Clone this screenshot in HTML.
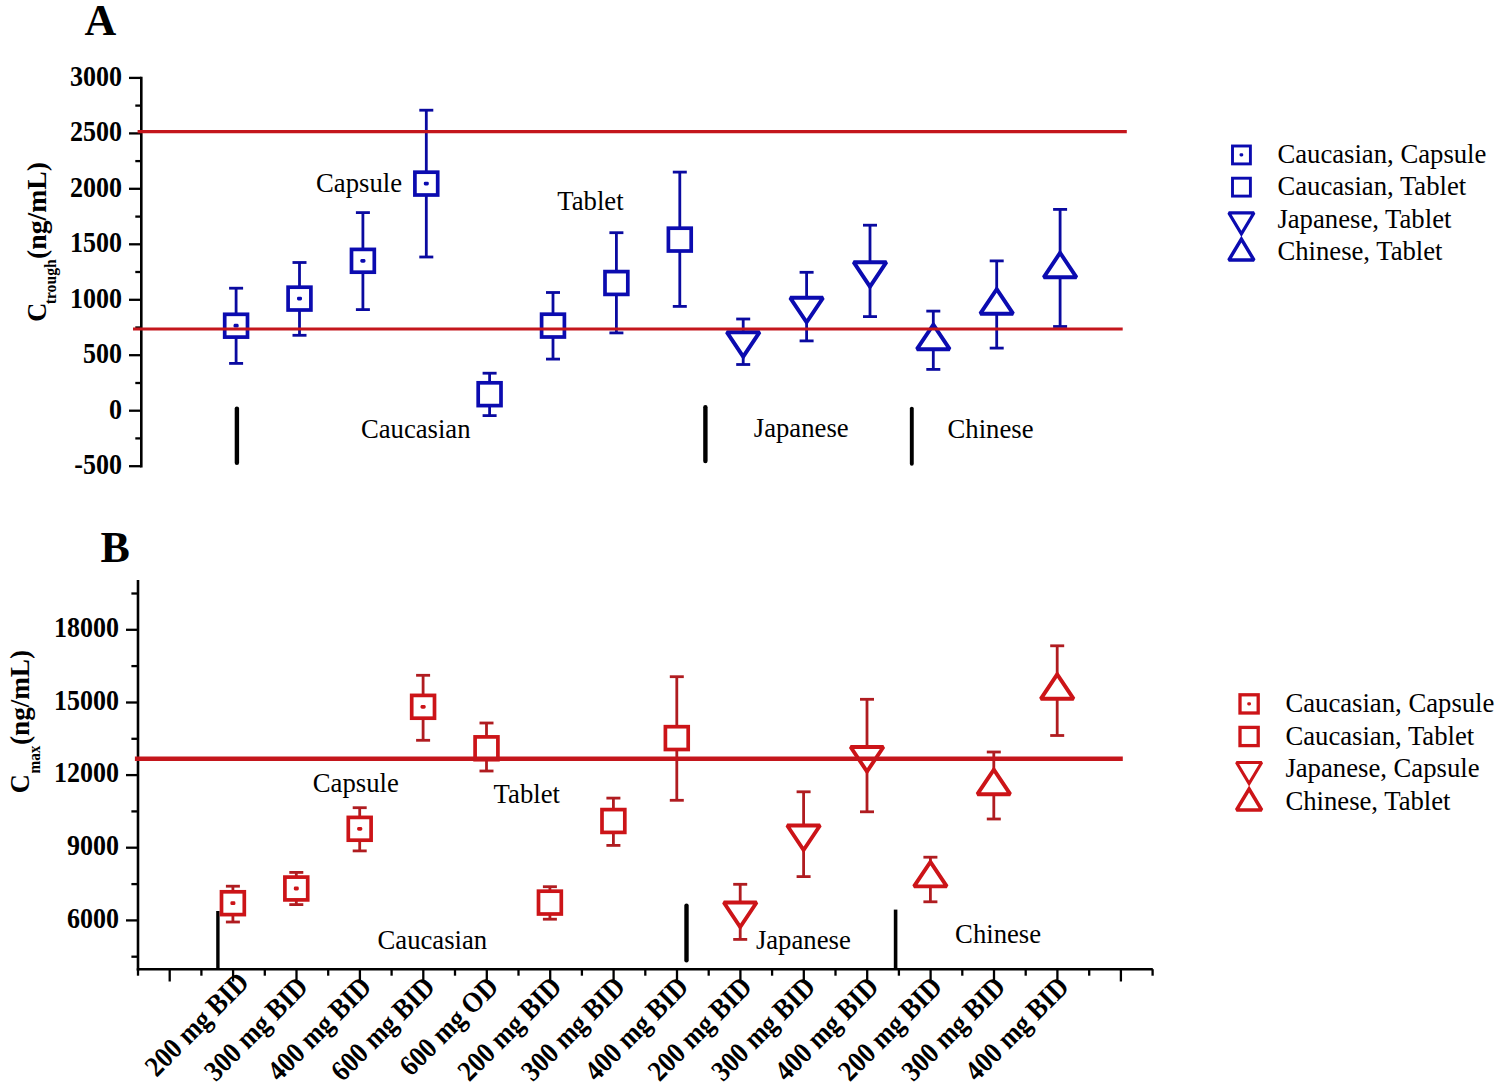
<!DOCTYPE html>
<html><head><meta charset="utf-8"><title>Ctrough and Cmax chart</title>
<style>
html,body{margin:0;padding:0;background:#fff;overflow:hidden;}
svg{display:block;}
text{font-family:"Liberation Serif", serif; fill:#000;}
</style></head>
<body>
<svg width="1499" height="1090" viewBox="0 0 1499 1090">
<rect width="1499" height="1090" fill="#fff"/>
<line x1="141.3" y1="76.7" x2="141.3" y2="467.4" stroke="#000" stroke-width="2.6" stroke-linecap="butt"/>
<line x1="129.0" y1="466.2" x2="141.3" y2="466.2" stroke="#000" stroke-width="2.3" stroke-linecap="butt"/>
<line x1="135.3" y1="438.4" x2="141.3" y2="438.4" stroke="#000" stroke-width="2.3" stroke-linecap="butt"/>
<line x1="129.0" y1="410.7" x2="141.3" y2="410.7" stroke="#000" stroke-width="2.3" stroke-linecap="butt"/>
<line x1="135.3" y1="383.0" x2="141.3" y2="383.0" stroke="#000" stroke-width="2.3" stroke-linecap="butt"/>
<line x1="129.0" y1="355.2" x2="141.3" y2="355.2" stroke="#000" stroke-width="2.3" stroke-linecap="butt"/>
<line x1="135.3" y1="327.5" x2="141.3" y2="327.5" stroke="#000" stroke-width="2.3" stroke-linecap="butt"/>
<line x1="129.0" y1="299.8" x2="141.3" y2="299.8" stroke="#000" stroke-width="2.3" stroke-linecap="butt"/>
<line x1="135.3" y1="272.0" x2="141.3" y2="272.0" stroke="#000" stroke-width="2.3" stroke-linecap="butt"/>
<line x1="129.0" y1="244.3" x2="141.3" y2="244.3" stroke="#000" stroke-width="2.3" stroke-linecap="butt"/>
<line x1="135.3" y1="216.6" x2="141.3" y2="216.6" stroke="#000" stroke-width="2.3" stroke-linecap="butt"/>
<line x1="129.0" y1="188.8" x2="141.3" y2="188.8" stroke="#000" stroke-width="2.3" stroke-linecap="butt"/>
<line x1="135.3" y1="161.1" x2="141.3" y2="161.1" stroke="#000" stroke-width="2.3" stroke-linecap="butt"/>
<line x1="129.0" y1="133.4" x2="141.3" y2="133.4" stroke="#000" stroke-width="2.3" stroke-linecap="butt"/>
<line x1="135.3" y1="105.6" x2="141.3" y2="105.6" stroke="#000" stroke-width="2.3" stroke-linecap="butt"/>
<line x1="129.0" y1="77.9" x2="141.3" y2="77.9" stroke="#000" stroke-width="2.3" stroke-linecap="butt"/>
<text transform="translate(122,474.2) scale(1,1.11)" font-size="26" font-weight="bold" text-anchor="end">-500</text>
<text transform="translate(122,418.7) scale(1,1.11)" font-size="26" font-weight="bold" text-anchor="end">0</text>
<text transform="translate(122,363.2) scale(1,1.11)" font-size="26" font-weight="bold" text-anchor="end">500</text>
<text transform="translate(122,307.8) scale(1,1.11)" font-size="26" font-weight="bold" text-anchor="end">1000</text>
<text transform="translate(122,252.3) scale(1,1.11)" font-size="26" font-weight="bold" text-anchor="end">1500</text>
<text transform="translate(122,196.8) scale(1,1.11)" font-size="26" font-weight="bold" text-anchor="end">2000</text>
<text transform="translate(122,141.4) scale(1,1.11)" font-size="26" font-weight="bold" text-anchor="end">2500</text>
<text transform="translate(122,85.9) scale(1,1.11)" font-size="26" font-weight="bold" text-anchor="end">3000</text>
<line x1="236.9" y1="408.6" x2="236.9" y2="462.7" stroke="#000" stroke-width="4.4" stroke-linecap="round"/>
<line x1="705.4" y1="407.3" x2="705.4" y2="461.1" stroke="#000" stroke-width="4.4" stroke-linecap="round"/>
<line x1="911.8" y1="408.6" x2="911.8" y2="463.7" stroke="#000" stroke-width="3.9" stroke-linecap="round"/>
<line x1="236.1" y1="288.2" x2="236.1" y2="363.4" stroke="#0a0aa0" stroke-width="2.8" stroke-linecap="butt"/>
<line x1="229.1" y1="288.2" x2="243.1" y2="288.2" stroke="#0a0aa0" stroke-width="2.8" stroke-linecap="butt"/>
<line x1="229.1" y1="363.4" x2="243.1" y2="363.4" stroke="#0a0aa0" stroke-width="2.8" stroke-linecap="butt"/>
<line x1="299.5" y1="262.5" x2="299.5" y2="335.3" stroke="#0a0aa0" stroke-width="2.8" stroke-linecap="butt"/>
<line x1="292.5" y1="262.5" x2="306.5" y2="262.5" stroke="#0a0aa0" stroke-width="2.8" stroke-linecap="butt"/>
<line x1="292.5" y1="335.3" x2="306.5" y2="335.3" stroke="#0a0aa0" stroke-width="2.8" stroke-linecap="butt"/>
<line x1="362.9" y1="212.6" x2="362.9" y2="309.6" stroke="#0a0aa0" stroke-width="2.8" stroke-linecap="butt"/>
<line x1="355.9" y1="212.6" x2="369.9" y2="212.6" stroke="#0a0aa0" stroke-width="2.8" stroke-linecap="butt"/>
<line x1="355.9" y1="309.6" x2="369.9" y2="309.6" stroke="#0a0aa0" stroke-width="2.8" stroke-linecap="butt"/>
<line x1="426.3" y1="110.2" x2="426.3" y2="257.0" stroke="#0a0aa0" stroke-width="2.8" stroke-linecap="butt"/>
<line x1="419.3" y1="110.2" x2="433.3" y2="110.2" stroke="#0a0aa0" stroke-width="2.8" stroke-linecap="butt"/>
<line x1="419.3" y1="257.0" x2="433.3" y2="257.0" stroke="#0a0aa0" stroke-width="2.8" stroke-linecap="butt"/>
<line x1="489.6" y1="373.2" x2="489.6" y2="415.6" stroke="#0a0aa0" stroke-width="2.8" stroke-linecap="butt"/>
<line x1="482.6" y1="373.2" x2="496.6" y2="373.2" stroke="#0a0aa0" stroke-width="2.8" stroke-linecap="butt"/>
<line x1="482.6" y1="415.6" x2="496.6" y2="415.6" stroke="#0a0aa0" stroke-width="2.8" stroke-linecap="butt"/>
<line x1="553.0" y1="292.5" x2="553.0" y2="359.1" stroke="#0a0aa0" stroke-width="2.8" stroke-linecap="butt"/>
<line x1="546.0" y1="292.5" x2="560.0" y2="292.5" stroke="#0a0aa0" stroke-width="2.8" stroke-linecap="butt"/>
<line x1="546.0" y1="359.1" x2="560.0" y2="359.1" stroke="#0a0aa0" stroke-width="2.8" stroke-linecap="butt"/>
<line x1="616.4" y1="232.7" x2="616.4" y2="332.9" stroke="#0a0aa0" stroke-width="2.8" stroke-linecap="butt"/>
<line x1="609.4" y1="232.7" x2="623.4" y2="232.7" stroke="#0a0aa0" stroke-width="2.8" stroke-linecap="butt"/>
<line x1="609.4" y1="332.9" x2="623.4" y2="332.9" stroke="#0a0aa0" stroke-width="2.8" stroke-linecap="butt"/>
<line x1="679.8" y1="172.1" x2="679.8" y2="306.4" stroke="#0a0aa0" stroke-width="2.8" stroke-linecap="butt"/>
<line x1="672.8" y1="172.1" x2="686.8" y2="172.1" stroke="#0a0aa0" stroke-width="2.8" stroke-linecap="butt"/>
<line x1="672.8" y1="306.4" x2="686.8" y2="306.4" stroke="#0a0aa0" stroke-width="2.8" stroke-linecap="butt"/>
<line x1="743.2" y1="319.0" x2="743.2" y2="364.5" stroke="#0a0aa0" stroke-width="2.8" stroke-linecap="butt"/>
<line x1="736.2" y1="319.0" x2="750.2" y2="319.0" stroke="#0a0aa0" stroke-width="2.8" stroke-linecap="butt"/>
<line x1="736.2" y1="364.5" x2="750.2" y2="364.5" stroke="#0a0aa0" stroke-width="2.8" stroke-linecap="butt"/>
<line x1="806.6" y1="272.3" x2="806.6" y2="340.9" stroke="#0a0aa0" stroke-width="2.8" stroke-linecap="butt"/>
<line x1="799.6" y1="272.3" x2="813.6" y2="272.3" stroke="#0a0aa0" stroke-width="2.8" stroke-linecap="butt"/>
<line x1="799.6" y1="340.9" x2="813.6" y2="340.9" stroke="#0a0aa0" stroke-width="2.8" stroke-linecap="butt"/>
<line x1="870.0" y1="225.2" x2="870.0" y2="316.6" stroke="#0a0aa0" stroke-width="2.8" stroke-linecap="butt"/>
<line x1="863.0" y1="225.2" x2="877.0" y2="225.2" stroke="#0a0aa0" stroke-width="2.8" stroke-linecap="butt"/>
<line x1="863.0" y1="316.6" x2="877.0" y2="316.6" stroke="#0a0aa0" stroke-width="2.8" stroke-linecap="butt"/>
<line x1="933.3" y1="311.1" x2="933.3" y2="369.4" stroke="#0a0aa0" stroke-width="2.8" stroke-linecap="butt"/>
<line x1="926.3" y1="311.1" x2="940.3" y2="311.1" stroke="#0a0aa0" stroke-width="2.8" stroke-linecap="butt"/>
<line x1="926.3" y1="369.4" x2="940.3" y2="369.4" stroke="#0a0aa0" stroke-width="2.8" stroke-linecap="butt"/>
<line x1="996.7" y1="260.9" x2="996.7" y2="348.1" stroke="#0a0aa0" stroke-width="2.8" stroke-linecap="butt"/>
<line x1="989.7" y1="260.9" x2="1003.7" y2="260.9" stroke="#0a0aa0" stroke-width="2.8" stroke-linecap="butt"/>
<line x1="989.7" y1="348.1" x2="1003.7" y2="348.1" stroke="#0a0aa0" stroke-width="2.8" stroke-linecap="butt"/>
<line x1="1060.1" y1="209.4" x2="1060.1" y2="326.5" stroke="#0a0aa0" stroke-width="2.8" stroke-linecap="butt"/>
<line x1="1053.1" y1="209.4" x2="1067.1" y2="209.4" stroke="#0a0aa0" stroke-width="2.8" stroke-linecap="butt"/>
<line x1="1053.1" y1="326.5" x2="1067.1" y2="326.5" stroke="#0a0aa0" stroke-width="2.8" stroke-linecap="butt"/>
<rect x="224.7" y="314.3" width="22.8" height="22.8" fill="#fff" stroke="#0b0bb0" stroke-width="3.7"/>
<rect x="233.6" y="323.8" width="5" height="3.8" rx="1.4" fill="#0b0bb0"/>
<rect x="288.1" y="287.2" width="22.8" height="22.8" fill="#fff" stroke="#0b0bb0" stroke-width="3.7"/>
<rect x="297.0" y="296.7" width="5" height="3.8" rx="1.4" fill="#0b0bb0"/>
<rect x="351.5" y="249.4" width="22.8" height="22.8" fill="#fff" stroke="#0b0bb0" stroke-width="3.7"/>
<rect x="360.4" y="258.9" width="5" height="3.8" rx="1.4" fill="#0b0bb0"/>
<rect x="414.9" y="172.2" width="22.8" height="22.8" fill="#fff" stroke="#0b0bb0" stroke-width="3.7"/>
<rect x="423.8" y="181.7" width="5" height="3.8" rx="1.4" fill="#0b0bb0"/>
<rect x="478.2" y="382.8" width="22.8" height="22.8" fill="#fff" stroke="#0b0bb0" stroke-width="3.7"/>
<rect x="541.6" y="314.2" width="22.8" height="22.8" fill="#fff" stroke="#0b0bb0" stroke-width="3.7"/>
<rect x="605.0" y="271.6" width="22.8" height="22.8" fill="#fff" stroke="#0b0bb0" stroke-width="3.7"/>
<rect x="668.4" y="228.2" width="22.8" height="22.8" fill="#fff" stroke="#0b0bb0" stroke-width="3.7"/>
<path d="M726.8,332.2 L759.6,332.2 L743.2,356.7 Z" fill="#fff" stroke="#0b0bb0" stroke-width="3.9" stroke-linejoin="miter" stroke-miterlimit="1.9"/>
<path d="M790.2,297.8 L823.0,297.8 L806.6,322.3 Z" fill="#fff" stroke="#0b0bb0" stroke-width="3.9" stroke-linejoin="miter" stroke-miterlimit="1.9"/>
<path d="M853.6,262.2 L886.4,262.2 L870.0,286.7 Z" fill="#fff" stroke="#0b0bb0" stroke-width="3.9" stroke-linejoin="miter" stroke-miterlimit="1.9"/>
<path d="M933.3,324.7 L949.7,349.2 L916.9,349.2 Z" fill="#fff" stroke="#0b0bb0" stroke-width="3.9" stroke-linejoin="miter" stroke-miterlimit="1.9"/>
<path d="M996.7,289.2 L1013.1,313.7 L980.3,313.7 Z" fill="#fff" stroke="#0b0bb0" stroke-width="3.9" stroke-linejoin="miter" stroke-miterlimit="1.9"/>
<path d="M1060.1,252.8 L1076.5,277.3 L1043.7,277.3 Z" fill="#fff" stroke="#0b0bb0" stroke-width="3.9" stroke-linejoin="miter" stroke-miterlimit="1.9"/>
<line x1="137.6" y1="131.6" x2="1126.8" y2="131.6" stroke="#c4161c" stroke-width="3.2" stroke-linecap="butt"/>
<line x1="133.0" y1="329.0" x2="1122.7" y2="329.0" stroke="#c4161c" stroke-width="3.2" stroke-linecap="butt"/>
<text x="316.0" y="191.8" font-size="26.7">Capsule</text>
<text x="557.3" y="210.1" font-size="26.7">Tablet</text>
<text x="360.9" y="438.1" font-size="26.7">Caucasian</text>
<text x="753.8" y="437.0" font-size="26.7">Japanese</text>
<text x="947.5" y="437.8" font-size="26.7">Chinese</text>
<text x="84.5" y="34.5" font-size="44" font-weight="bold">A</text>
<g transform="translate(45.6,321.3) rotate(-90)" font-weight="bold"><text x="-0.5" y="0" font-size="26.5">C</text><text x="17" y="10.7" font-size="16.5" textLength="45" lengthAdjust="spacingAndGlyphs">trough</text><text x="62.3" y="0" font-size="26.5" textLength="97" lengthAdjust="spacingAndGlyphs">(ng/mL)</text></g>
<rect x="1232.5" y="146.0" width="17.9" height="17.9" fill="#fff" stroke="#0b0bb0" stroke-width="2.9"/>
<rect x="1239.5" y="153.3" width="3.8" height="3.2" rx="1.4" fill="#0b0bb0"/>
<text x="1277.4" y="162.9" font-size="26.7">Caucasian, Capsule</text>
<rect x="1232.5" y="178.2" width="17.9" height="17.9" fill="#fff" stroke="#0b0bb0" stroke-width="2.9"/>
<text x="1277.4" y="195.2" font-size="26.7">Caucasian, Tablet</text>
<path d="M1228.8,212.9 L1254.0,212.9 L1241.4,233.9 Z" fill="#fff" stroke="#0b0bb0" stroke-width="3.1" stroke-linejoin="miter" stroke-miterlimit="1.98"/>
<text x="1277.4" y="227.5" font-size="26.7">Japanese, Tablet</text>
<path d="M1241.4,239.1 L1254.0,260.1 L1228.8,260.1 Z" fill="#fff" stroke="#0b0bb0" stroke-width="3.5" stroke-linejoin="miter" stroke-miterlimit="1.98"/>
<text x="1277.4" y="259.8" font-size="26.7">Chinese, Tablet</text>
<line x1="138.0" y1="580.0" x2="138.0" y2="970.4" stroke="#000" stroke-width="2.6" stroke-linecap="butt"/>
<line x1="131.4" y1="956.7" x2="138.0" y2="956.7" stroke="#000" stroke-width="2.3" stroke-linecap="butt"/>
<line x1="126.0" y1="920.4" x2="138.0" y2="920.4" stroke="#000" stroke-width="2.3" stroke-linecap="butt"/>
<line x1="131.4" y1="884.1" x2="138.0" y2="884.1" stroke="#000" stroke-width="2.3" stroke-linecap="butt"/>
<line x1="126.0" y1="847.7" x2="138.0" y2="847.7" stroke="#000" stroke-width="2.3" stroke-linecap="butt"/>
<line x1="131.4" y1="811.4" x2="138.0" y2="811.4" stroke="#000" stroke-width="2.3" stroke-linecap="butt"/>
<line x1="126.0" y1="775.1" x2="138.0" y2="775.1" stroke="#000" stroke-width="2.3" stroke-linecap="butt"/>
<line x1="131.4" y1="738.8" x2="138.0" y2="738.8" stroke="#000" stroke-width="2.3" stroke-linecap="butt"/>
<line x1="126.0" y1="702.5" x2="138.0" y2="702.5" stroke="#000" stroke-width="2.3" stroke-linecap="butt"/>
<line x1="131.4" y1="666.1" x2="138.0" y2="666.1" stroke="#000" stroke-width="2.3" stroke-linecap="butt"/>
<line x1="126.0" y1="629.8" x2="138.0" y2="629.8" stroke="#000" stroke-width="2.3" stroke-linecap="butt"/>
<line x1="131.4" y1="593.5" x2="138.0" y2="593.5" stroke="#000" stroke-width="2.3" stroke-linecap="butt"/>
<text transform="translate(119,927.6) scale(1,1.11)" font-size="26" font-weight="bold" text-anchor="end">6000</text>
<text transform="translate(119,854.9) scale(1,1.11)" font-size="26" font-weight="bold" text-anchor="end">9000</text>
<text transform="translate(119,782.3) scale(1,1.11)" font-size="26" font-weight="bold" text-anchor="end">12000</text>
<text transform="translate(119,709.7) scale(1,1.11)" font-size="26" font-weight="bold" text-anchor="end">15000</text>
<text transform="translate(119,637.0) scale(1,1.11)" font-size="26" font-weight="bold" text-anchor="end">18000</text>
<line x1="136.8" y1="969.2" x2="1152.8" y2="969.2" stroke="#000" stroke-width="2.5" stroke-linecap="butt"/>
<line x1="138.0" y1="969.2" x2="138.0" y2="975.7" stroke="#000" stroke-width="2.3" stroke-linecap="butt"/>
<line x1="169.7" y1="969.2" x2="169.7" y2="981.5" stroke="#000" stroke-width="2.3" stroke-linecap="butt"/>
<line x1="201.4" y1="969.2" x2="201.4" y2="975.7" stroke="#000" stroke-width="2.3" stroke-linecap="butt"/>
<line x1="233.1" y1="969.2" x2="233.1" y2="981.5" stroke="#000" stroke-width="2.3" stroke-linecap="butt"/>
<line x1="264.8" y1="969.2" x2="264.8" y2="975.7" stroke="#000" stroke-width="2.3" stroke-linecap="butt"/>
<line x1="296.5" y1="969.2" x2="296.5" y2="981.5" stroke="#000" stroke-width="2.3" stroke-linecap="butt"/>
<line x1="328.2" y1="969.2" x2="328.2" y2="975.7" stroke="#000" stroke-width="2.3" stroke-linecap="butt"/>
<line x1="359.9" y1="969.2" x2="359.9" y2="981.5" stroke="#000" stroke-width="2.3" stroke-linecap="butt"/>
<line x1="391.6" y1="969.2" x2="391.6" y2="975.7" stroke="#000" stroke-width="2.3" stroke-linecap="butt"/>
<line x1="423.3" y1="969.2" x2="423.3" y2="981.5" stroke="#000" stroke-width="2.3" stroke-linecap="butt"/>
<line x1="455.0" y1="969.2" x2="455.0" y2="975.7" stroke="#000" stroke-width="2.3" stroke-linecap="butt"/>
<line x1="486.8" y1="969.2" x2="486.8" y2="981.5" stroke="#000" stroke-width="2.3" stroke-linecap="butt"/>
<line x1="518.5" y1="969.2" x2="518.5" y2="975.7" stroke="#000" stroke-width="2.3" stroke-linecap="butt"/>
<line x1="550.2" y1="969.2" x2="550.2" y2="981.5" stroke="#000" stroke-width="2.3" stroke-linecap="butt"/>
<line x1="581.9" y1="969.2" x2="581.9" y2="975.7" stroke="#000" stroke-width="2.3" stroke-linecap="butt"/>
<line x1="613.6" y1="969.2" x2="613.6" y2="981.5" stroke="#000" stroke-width="2.3" stroke-linecap="butt"/>
<line x1="645.3" y1="969.2" x2="645.3" y2="975.7" stroke="#000" stroke-width="2.3" stroke-linecap="butt"/>
<line x1="677.0" y1="969.2" x2="677.0" y2="981.5" stroke="#000" stroke-width="2.3" stroke-linecap="butt"/>
<line x1="708.7" y1="969.2" x2="708.7" y2="975.7" stroke="#000" stroke-width="2.3" stroke-linecap="butt"/>
<line x1="740.4" y1="969.2" x2="740.4" y2="981.5" stroke="#000" stroke-width="2.3" stroke-linecap="butt"/>
<line x1="772.1" y1="969.2" x2="772.1" y2="975.7" stroke="#000" stroke-width="2.3" stroke-linecap="butt"/>
<line x1="803.8" y1="969.2" x2="803.8" y2="981.5" stroke="#000" stroke-width="2.3" stroke-linecap="butt"/>
<line x1="835.5" y1="969.2" x2="835.5" y2="975.7" stroke="#000" stroke-width="2.3" stroke-linecap="butt"/>
<line x1="867.2" y1="969.2" x2="867.2" y2="981.5" stroke="#000" stroke-width="2.3" stroke-linecap="butt"/>
<line x1="898.9" y1="969.2" x2="898.9" y2="975.7" stroke="#000" stroke-width="2.3" stroke-linecap="butt"/>
<line x1="930.6" y1="969.2" x2="930.6" y2="981.5" stroke="#000" stroke-width="2.3" stroke-linecap="butt"/>
<line x1="962.3" y1="969.2" x2="962.3" y2="975.7" stroke="#000" stroke-width="2.3" stroke-linecap="butt"/>
<line x1="994.0" y1="969.2" x2="994.0" y2="981.5" stroke="#000" stroke-width="2.3" stroke-linecap="butt"/>
<line x1="1025.7" y1="969.2" x2="1025.7" y2="975.7" stroke="#000" stroke-width="2.3" stroke-linecap="butt"/>
<line x1="1057.4" y1="969.2" x2="1057.4" y2="981.5" stroke="#000" stroke-width="2.3" stroke-linecap="butt"/>
<line x1="1089.2" y1="969.2" x2="1089.2" y2="975.7" stroke="#000" stroke-width="2.3" stroke-linecap="butt"/>
<line x1="1120.9" y1="969.2" x2="1120.9" y2="981.5" stroke="#000" stroke-width="2.3" stroke-linecap="butt"/>
<line x1="1152.6" y1="969.2" x2="1152.6" y2="975.7" stroke="#000" stroke-width="2.3" stroke-linecap="butt"/>
<text transform="translate(250.4,984.0) rotate(-45) scale(1,1.11)" font-size="26" font-weight="bold" text-anchor="end">200 mg BID</text>
<text transform="translate(309.6,988.5) rotate(-45) scale(1,1.11)" font-size="26" font-weight="bold" text-anchor="end">300 mg BID</text>
<text transform="translate(373.0,988.5) rotate(-45) scale(1,1.11)" font-size="26" font-weight="bold" text-anchor="end">400 mg BID</text>
<text transform="translate(436.4,988.5) rotate(-45) scale(1,1.11)" font-size="26" font-weight="bold" text-anchor="end">600 mg BID</text>
<text transform="translate(499.9,988.5) rotate(-45) scale(1,1.11)" font-size="26" font-weight="bold" text-anchor="end">600 mg OD</text>
<text transform="translate(563.3,988.5) rotate(-45) scale(1,1.11)" font-size="26" font-weight="bold" text-anchor="end">200 mg BID</text>
<text transform="translate(626.7,988.5) rotate(-45) scale(1,1.11)" font-size="26" font-weight="bold" text-anchor="end">300 mg BID</text>
<text transform="translate(690.1,988.5) rotate(-45) scale(1,1.11)" font-size="26" font-weight="bold" text-anchor="end">400 mg BID</text>
<text transform="translate(753.5,988.5) rotate(-45) scale(1,1.11)" font-size="26" font-weight="bold" text-anchor="end">200 mg BID</text>
<text transform="translate(816.9,988.5) rotate(-45) scale(1,1.11)" font-size="26" font-weight="bold" text-anchor="end">300 mg BID</text>
<text transform="translate(880.3,988.5) rotate(-45) scale(1,1.11)" font-size="26" font-weight="bold" text-anchor="end">400 mg BID</text>
<text transform="translate(943.7,988.5) rotate(-45) scale(1,1.11)" font-size="26" font-weight="bold" text-anchor="end">200 mg BID</text>
<text transform="translate(1007.1,988.5) rotate(-45) scale(1,1.11)" font-size="26" font-weight="bold" text-anchor="end">300 mg BID</text>
<text transform="translate(1070.5,988.5) rotate(-45) scale(1,1.11)" font-size="26" font-weight="bold" text-anchor="end">400 mg BID</text>
<line x1="217.9" y1="911.0" x2="217.9" y2="969.2" stroke="#000" stroke-width="3.4" stroke-linecap="butt"/>
<line x1="686.5" y1="905.6" x2="686.5" y2="960.2" stroke="#000" stroke-width="4.4" stroke-linecap="round"/>
<line x1="895.6" y1="909.6" x2="895.6" y2="969.2" stroke="#000" stroke-width="3.6" stroke-linecap="butt"/>
<line x1="232.9" y1="886.2" x2="232.9" y2="922.0" stroke="#b01c20" stroke-width="2.8" stroke-linecap="butt"/>
<line x1="225.9" y1="886.2" x2="239.9" y2="886.2" stroke="#b01c20" stroke-width="2.8" stroke-linecap="butt"/>
<line x1="225.9" y1="922.0" x2="239.9" y2="922.0" stroke="#b01c20" stroke-width="2.8" stroke-linecap="butt"/>
<line x1="296.3" y1="872.4" x2="296.3" y2="904.6" stroke="#b01c20" stroke-width="2.8" stroke-linecap="butt"/>
<line x1="289.3" y1="872.4" x2="303.3" y2="872.4" stroke="#b01c20" stroke-width="2.8" stroke-linecap="butt"/>
<line x1="289.3" y1="904.6" x2="303.3" y2="904.6" stroke="#b01c20" stroke-width="2.8" stroke-linecap="butt"/>
<line x1="359.7" y1="807.7" x2="359.7" y2="850.9" stroke="#b01c20" stroke-width="2.8" stroke-linecap="butt"/>
<line x1="352.7" y1="807.7" x2="366.7" y2="807.7" stroke="#b01c20" stroke-width="2.8" stroke-linecap="butt"/>
<line x1="352.7" y1="850.9" x2="366.7" y2="850.9" stroke="#b01c20" stroke-width="2.8" stroke-linecap="butt"/>
<line x1="423.1" y1="675.3" x2="423.1" y2="740.3" stroke="#b01c20" stroke-width="2.8" stroke-linecap="butt"/>
<line x1="416.1" y1="675.3" x2="430.1" y2="675.3" stroke="#b01c20" stroke-width="2.8" stroke-linecap="butt"/>
<line x1="416.1" y1="740.3" x2="430.1" y2="740.3" stroke="#b01c20" stroke-width="2.8" stroke-linecap="butt"/>
<line x1="486.5" y1="723.0" x2="486.5" y2="771.0" stroke="#b01c20" stroke-width="2.8" stroke-linecap="butt"/>
<line x1="479.5" y1="723.0" x2="493.5" y2="723.0" stroke="#b01c20" stroke-width="2.8" stroke-linecap="butt"/>
<line x1="479.5" y1="771.0" x2="493.5" y2="771.0" stroke="#b01c20" stroke-width="2.8" stroke-linecap="butt"/>
<line x1="549.9" y1="886.7" x2="549.9" y2="919.2" stroke="#b01c20" stroke-width="2.8" stroke-linecap="butt"/>
<line x1="542.9" y1="886.7" x2="556.9" y2="886.7" stroke="#b01c20" stroke-width="2.8" stroke-linecap="butt"/>
<line x1="542.9" y1="919.2" x2="556.9" y2="919.2" stroke="#b01c20" stroke-width="2.8" stroke-linecap="butt"/>
<line x1="613.4" y1="798.1" x2="613.4" y2="845.4" stroke="#b01c20" stroke-width="2.8" stroke-linecap="butt"/>
<line x1="606.4" y1="798.1" x2="620.4" y2="798.1" stroke="#b01c20" stroke-width="2.8" stroke-linecap="butt"/>
<line x1="606.4" y1="845.4" x2="620.4" y2="845.4" stroke="#b01c20" stroke-width="2.8" stroke-linecap="butt"/>
<line x1="676.8" y1="676.7" x2="676.8" y2="800.3" stroke="#b01c20" stroke-width="2.8" stroke-linecap="butt"/>
<line x1="669.8" y1="676.7" x2="683.8" y2="676.7" stroke="#b01c20" stroke-width="2.8" stroke-linecap="butt"/>
<line x1="669.8" y1="800.3" x2="683.8" y2="800.3" stroke="#b01c20" stroke-width="2.8" stroke-linecap="butt"/>
<line x1="740.2" y1="884.3" x2="740.2" y2="939.4" stroke="#b01c20" stroke-width="2.8" stroke-linecap="butt"/>
<line x1="733.2" y1="884.3" x2="747.2" y2="884.3" stroke="#b01c20" stroke-width="2.8" stroke-linecap="butt"/>
<line x1="733.2" y1="939.4" x2="747.2" y2="939.4" stroke="#b01c20" stroke-width="2.8" stroke-linecap="butt"/>
<line x1="803.6" y1="791.8" x2="803.6" y2="876.6" stroke="#b01c20" stroke-width="2.8" stroke-linecap="butt"/>
<line x1="796.6" y1="791.8" x2="810.6" y2="791.8" stroke="#b01c20" stroke-width="2.8" stroke-linecap="butt"/>
<line x1="796.6" y1="876.6" x2="810.6" y2="876.6" stroke="#b01c20" stroke-width="2.8" stroke-linecap="butt"/>
<line x1="867.0" y1="699.3" x2="867.0" y2="811.8" stroke="#b01c20" stroke-width="2.8" stroke-linecap="butt"/>
<line x1="860.0" y1="699.3" x2="874.0" y2="699.3" stroke="#b01c20" stroke-width="2.8" stroke-linecap="butt"/>
<line x1="860.0" y1="811.8" x2="874.0" y2="811.8" stroke="#b01c20" stroke-width="2.8" stroke-linecap="butt"/>
<line x1="930.4" y1="857.2" x2="930.4" y2="901.8" stroke="#b01c20" stroke-width="2.8" stroke-linecap="butt"/>
<line x1="923.4" y1="857.2" x2="937.4" y2="857.2" stroke="#b01c20" stroke-width="2.8" stroke-linecap="butt"/>
<line x1="923.4" y1="901.8" x2="937.4" y2="901.8" stroke="#b01c20" stroke-width="2.8" stroke-linecap="butt"/>
<line x1="993.8" y1="752.0" x2="993.8" y2="819.0" stroke="#b01c20" stroke-width="2.8" stroke-linecap="butt"/>
<line x1="986.8" y1="752.0" x2="1000.8" y2="752.0" stroke="#b01c20" stroke-width="2.8" stroke-linecap="butt"/>
<line x1="986.8" y1="819.0" x2="1000.8" y2="819.0" stroke="#b01c20" stroke-width="2.8" stroke-linecap="butt"/>
<line x1="1057.2" y1="645.8" x2="1057.2" y2="735.5" stroke="#b01c20" stroke-width="2.8" stroke-linecap="butt"/>
<line x1="1050.2" y1="645.8" x2="1064.2" y2="645.8" stroke="#b01c20" stroke-width="2.8" stroke-linecap="butt"/>
<line x1="1050.2" y1="735.5" x2="1064.2" y2="735.5" stroke="#b01c20" stroke-width="2.8" stroke-linecap="butt"/>
<rect x="221.5" y="891.8" width="22.8" height="22.8" fill="#fff" stroke="#cc1418" stroke-width="3.7"/>
<rect x="230.4" y="901.3" width="5" height="3.8" rx="1.4" fill="#cc1418"/>
<rect x="284.9" y="877.1" width="22.8" height="22.8" fill="#fff" stroke="#cc1418" stroke-width="3.7"/>
<rect x="293.8" y="886.6" width="5" height="3.8" rx="1.4" fill="#cc1418"/>
<rect x="348.3" y="817.4" width="22.8" height="22.8" fill="#fff" stroke="#cc1418" stroke-width="3.7"/>
<rect x="357.2" y="826.9" width="5" height="3.8" rx="1.4" fill="#cc1418"/>
<rect x="411.7" y="695.4" width="22.8" height="22.8" fill="#fff" stroke="#cc1418" stroke-width="3.7"/>
<rect x="420.6" y="704.9" width="5" height="3.8" rx="1.4" fill="#cc1418"/>
<rect x="475.1" y="736.9" width="22.8" height="22.8" fill="#fff" stroke="#cc1418" stroke-width="3.7"/>
<rect x="538.5" y="891.2" width="22.8" height="22.8" fill="#fff" stroke="#cc1418" stroke-width="3.7"/>
<rect x="602.0" y="809.6" width="22.8" height="22.8" fill="#fff" stroke="#cc1418" stroke-width="3.7"/>
<rect x="665.4" y="726.7" width="22.8" height="22.8" fill="#fff" stroke="#cc1418" stroke-width="3.7"/>
<path d="M723.8,902.5 L756.6,902.5 L740.2,927.0 Z" fill="#fff" stroke="#cc1418" stroke-width="3.9" stroke-linejoin="miter" stroke-miterlimit="1.9"/>
<path d="M787.2,825.5 L820.0,825.5 L803.6,850.0 Z" fill="#fff" stroke="#cc1418" stroke-width="3.9" stroke-linejoin="miter" stroke-miterlimit="1.9"/>
<path d="M850.6,747.0 L883.4,747.0 L867.0,771.5 Z" fill="#fff" stroke="#cc1418" stroke-width="3.9" stroke-linejoin="miter" stroke-miterlimit="1.9"/>
<path d="M930.4,861.9 L946.8,886.4 L914.0,886.4 Z" fill="#fff" stroke="#cc1418" stroke-width="3.9" stroke-linejoin="miter" stroke-miterlimit="1.9"/>
<path d="M993.8,769.7 L1010.2,794.2 L977.4,794.2 Z" fill="#fff" stroke="#cc1418" stroke-width="3.9" stroke-linejoin="miter" stroke-miterlimit="1.9"/>
<path d="M1057.2,674.3 L1073.6,698.8 L1040.8,698.8 Z" fill="#fff" stroke="#cc1418" stroke-width="3.9" stroke-linejoin="miter" stroke-miterlimit="1.9"/>
<line x1="134.9" y1="758.7" x2="1122.8" y2="758.7" stroke="#c4161c" stroke-width="4.4" stroke-linecap="butt"/>
<text x="312.8" y="791.8" font-size="26.7">Capsule</text>
<text x="493.6" y="802.8" font-size="26.7">Tablet</text>
<text x="377.5" y="948.5" font-size="26.7">Caucasian</text>
<text x="755.9" y="948.6" font-size="26.7">Japanese</text>
<text x="955.1" y="943.0" font-size="26.7">Chinese</text>
<text x="100.5" y="561.5" font-size="44" font-weight="bold">B</text>
<g transform="translate(29.3,792.8) rotate(-90)" font-weight="bold"><text x="-0.5" y="0" font-size="26.5">C</text><text x="19.3" y="10.8" font-size="16.5" textLength="27.8" lengthAdjust="spacingAndGlyphs">max</text><text x="47.8" y="0" font-size="26.5" textLength="95" lengthAdjust="spacingAndGlyphs">(ng/mL)</text></g>
<rect x="1240.0" y="694.8" width="18.2" height="18.2" fill="#fff" stroke="#cc1418" stroke-width="3.3"/>
<rect x="1247.2" y="702.3" width="3.8" height="3.2" rx="1.4" fill="#cc1418"/>
<text x="1285.4" y="711.9" font-size="26.7">Caucasian, Capsule</text>
<rect x="1240.0" y="727.4" width="18.2" height="18.2" fill="#fff" stroke="#cc1418" stroke-width="3.3"/>
<text x="1285.4" y="744.5" font-size="26.7">Caucasian, Tablet</text>
<path d="M1236.5,762.5 L1261.7,762.5 L1249.1,783.5 Z" fill="#fff" stroke="#cc1418" stroke-width="3.1" stroke-linejoin="miter" stroke-miterlimit="1.98"/>
<text x="1285.4" y="777.1" font-size="26.7">Japanese, Capsule</text>
<path d="M1249.1,789.0 L1261.7,810.0 L1236.5,810.0 Z" fill="#fff" stroke="#cc1418" stroke-width="3.5" stroke-linejoin="miter" stroke-miterlimit="1.98"/>
<text x="1285.4" y="809.7" font-size="26.7">Chinese, Tablet</text>
</svg>
</body></html>
